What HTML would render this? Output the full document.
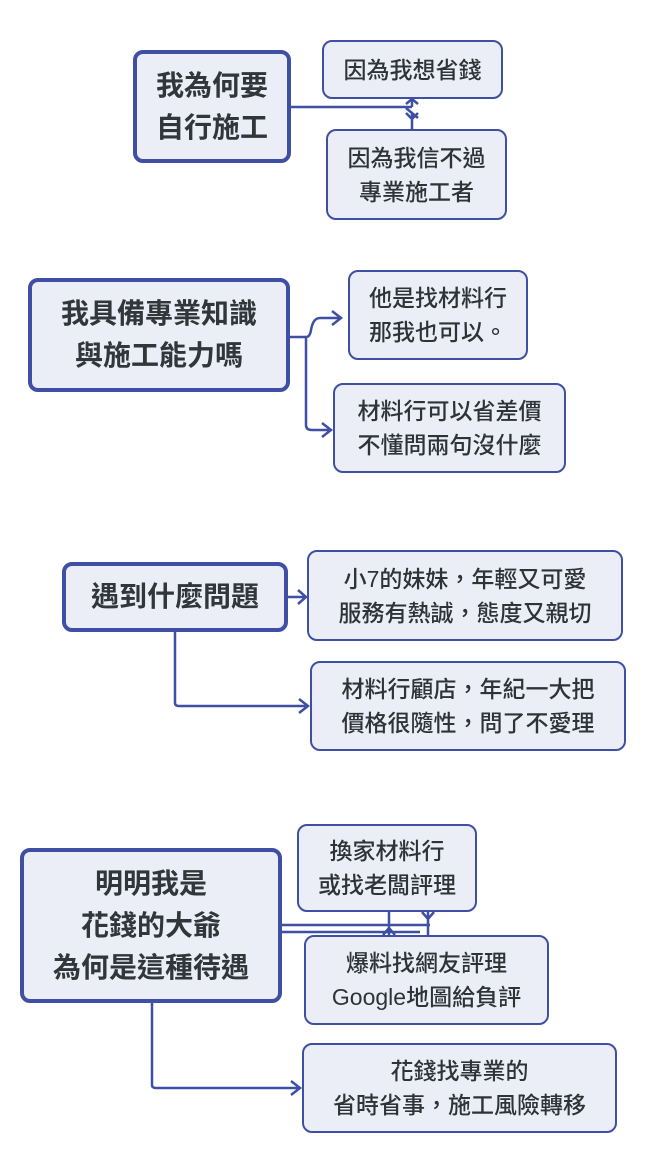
<!DOCTYPE html>
<html><head><meta charset="utf-8"><style>
html,body{margin:0;padding:0;background:#fff;width:651px;height:1164px;overflow:hidden}
.b{position:absolute;box-sizing:border-box;background:#eceef7;border:2.5px solid #3f4fa3;border-radius:10px;display:flex;align-items:center;justify-content:center;text-align:center;color:#2e3338;font-family:"Liberation Sans","Noto Sans CJK TC",sans-serif;font-size:23px;line-height:34px;font-weight:500;white-space:nowrap}
.r{border-width:4px;font-size:28px;line-height:42px;font-weight:bold;color:#30363a}
svg{position:absolute;left:0;top:0}
</style></head><body>
<svg width="651" height="1164" fill="none" stroke="#3f4fa3" stroke-width="2.5">
<path d="M291 107 H412"/>
<path d="M412 99 V107 M406 104 L412 99 L418 104 M412 113 V129 M406 113 L412 119 L418 113 M406 108 L418 118"/>
<path d="M290 337 H306 Q310 337 311 330 Q313 318 320 318 H340 M332 311 L341 318 L332 325"/>
<path d="M306 337 V425 Q306 430 312 430 H330 M322 423 L331 430 L322 437"/>
<path d="M288 597 H306 M298 590 L306 597 L298 604"/>
<path d="M175 632 V703 Q175 706 179 706 H308 M299 699 L308 706 L299 713"/>
<path d="M282 925 H430 M282 932 H420"/>
<path d="M389 912 V935 M383 935 L389 928 L395 935 M428 912 V935 M422 912 L428 919 L434 912"/>
<path d="M152 1003 V1085 Q152 1088 156 1088 H300 M291 1081 L300 1088 L291 1095"/>
</svg>
<div class="b r" style="left:133px;top:50px;width:158px;height:113px">我為何要<br>自行施工</div>
<div class="b" style="left:322px;top:40px;width:181px;height:59px">因為我想省錢</div>
<div class="b" style="left:326px;top:129px;width:181px;height:91px">因為我信不過<br>專業施工者</div>

<div class="b r" style="left:28px;top:278px;width:262px;height:114px">我具備專業知識<br>與施工能力嗎</div>
<div class="b" style="left:348px;top:270px;width:180px;height:90px">他是找材料行<br>那我也可以。</div>
<div class="b" style="left:333px;top:383px;width:233px;height:90px">材料行可以省差價<br>不懂問兩句沒什麼</div>

<div class="b r" style="left:62px;top:562px;width:226px;height:70px">遇到什麼問題</div>
<div class="b" style="left:307px;top:550px;width:316px;height:91px">小7的妹妹，年輕又可愛<br>服務有熱誠，態度又親切</div>
<div class="b" style="left:310px;top:661px;width:316px;height:90px">材料行顧店，年紀一大把<br>價格很隨性，問了不愛理</div>

<div class="b r" style="left:20px;top:848px;width:262px;height:155px">明明我是<br>花錢的大爺<br>為何是這種待遇</div>
<div class="b" style="left:297px;top:824px;width:180px;height:88px">換家材料行<br>或找老闆評理</div>
<div class="b" style="left:304px;top:935px;width:245px;height:90px">爆料找網友評理<br>Google地圖給負評</div>
<div class="b" style="left:302px;top:1043px;width:315px;height:90px">花錢找專業的<br>省時省事，施工風險轉移</div>
</body></html>
